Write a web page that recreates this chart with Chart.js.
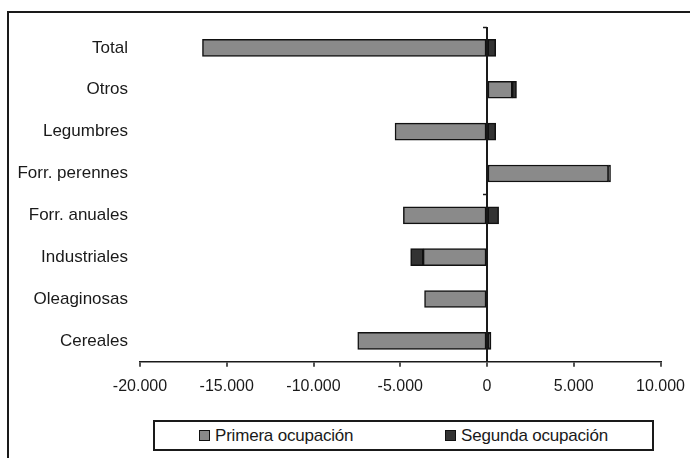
<!DOCTYPE html>
<html>
<head>
<meta charset="utf-8">
<script src="https://cdn.jsdelivr.net/npm/chart.js@4/dist/chart.umd.min.js"></script>
<style>
  html, body { margin: 0; padding: 0; background: #fff; }
  #wrap { position: relative; width: 690px; height: 458px; overflow: hidden;
          font-family: "Liberation Sans", Arial, sans-serif; }
  #frame { position: absolute; left: 7px; top: 11px; width: 720px; height: 480px;
           border-left: 2px solid #1a1a1a; border-top: 2px solid #1a1a1a; }
  #chart { position: absolute; left: 0; top: 0; }
  #legend { position: absolute; left: 153px; top: 420px; width: 497px; height: 27px;
            border: 2px solid #1a1a1a; background: #fff; }
  .item { position: absolute; top: 0; height: 27px; display: flex; align-items: center;
          font-size: 17px; color: #1a1a1a; white-space: nowrap; letter-spacing: -0.2px; }
  .sw { width: 9px; height: 9px; border: 1px solid #111; margin-right: 5px; }
</style>
</head>
<body>
<div id="wrap">
  <div id="frame"></div>
  <canvas id="chart" width="690" height="458"></canvas>
  <div id="legend"></div>
</div>
<script>
// Variación de la superficie por grupo de cultivos (hectáreas)
const categories = ['Total', 'Otros', 'Legumbres', 'Forr. perennes', 'Forr. anuales',
                    'Industriales', 'Oleaginosas', 'Cereales'];
const primeraOcupacion = [-16400, 1450, -5300, 7000, -4820, -3680, -3600, -7450];
const segundaOcupacion = [500, 250, 500, 120, 670, -720, 0, 230];
const seriesNames = ['Primera ocupación', 'Segunda ocupación'];
const xTickLabels = ['-20.000', '-15.000', '-10.000', '-5.000', '0', '5.000', '10.000'];

Chart.defaults.font.family = '"Liberation Sans", Arial, sans-serif';
Chart.defaults.color = '#1a1a1a';

// Short marks on the zero line at the category group boundaries
const zeroLineTicks = {
  id: 'zeroLineTicks',
  afterDatasetsDraw(chart) {
    const { ctx, scales: { x, y } } = chart;
    const x0 = x.getPixelForValue(0);
    ctx.save();
    ctx.strokeStyle = '#1a1a1a';
    ctx.lineWidth = 1.5;
    [-0.5, 3.5].forEach(v => {
      const py = Math.round(y.getPixelForValue(v)) + 0.5;
      ctx.beginPath();
      ctx.moveTo(x0 - 4, py);
      ctx.lineTo(x0, py);
      ctx.stroke();
    });
    ctx.restore();
  }
};

// Boxed legend built from the chart's own legend items
const boxedLegend = {
  id: 'boxedLegend',
  afterUpdate(chart) {
    const box = document.getElementById('legend');
    box.innerHTML = '';
    const items = Chart.defaults.plugins.legend.labels.generateLabels(chart);
    const offsets = [44, 290];
    items.forEach((it, i) => {
      const el = document.createElement('div');
      el.className = 'item';
      el.style.left = offsets[i] + 'px';
      const sw = document.createElement('span');
      sw.className = 'sw';
      sw.style.background = it.fillStyle;
      const tx = document.createElement('span');
      tx.textContent = it.text;
      el.appendChild(sw);
      el.appendChild(tx);
      box.appendChild(el);
    });
  }
};

new Chart(document.getElementById('chart'), {
  type: 'bar',
  data: {
    labels: categories,
    datasets: [
      { label: seriesNames[0], data: primeraOcupacion, backgroundColor: '#8a8a8a' },
      { label: seriesNames[1], data: segundaOcupacion, backgroundColor: '#333333' }
    ].map(d => Object.assign(d, {
      borderColor: '#111', borderWidth: 1.5, borderSkipped: false, barThickness: 17
    }))
  },
  options: {
    indexAxis: 'y',
    responsive: false,
    animation: false,
    layout: { padding: { top: 27, right: 29.5, bottom: 52, left: 0 } },
    plugins: { legend: { display: false }, tooltip: { enabled: false } },
    scales: {
      x: {
        stacked: true,
        min: -20000, max: 10000,
        ticks: {
          stepSize: 5000, maxRotation: 0, padding: 10,
          font: { size: 16 }, color: '#1a1a1a',
          callback: (v, i) => xTickLabels[i]
        },
        grid: {
          drawOnChartArea: true, drawTicks: true, tickLength: 5,
          color: c => (c.tick && c.tick.value === 0) ? '#1a1a1a' : 'rgba(0,0,0,0)',
          lineWidth: 2, tickColor: '#1a1a1a', tickWidth: 1.5
        },
        border: { display: true, color: '#1a1a1a', width: 1.5 },
        afterFit: s => { s.paddingRight = 0; s.paddingLeft = 0; }
      },
      y: {
        stacked: true,
        grid: { display: false, drawTicks: false },
        border: { display: false },
        ticks: { font: { size: 17 }, color: '#1a1a1a', padding: 12 },
        afterFit: s => { s.width = 140; }
      }
    }
  },
  plugins: [zeroLineTicks, boxedLegend]
});
</script>
</body>
</html>
